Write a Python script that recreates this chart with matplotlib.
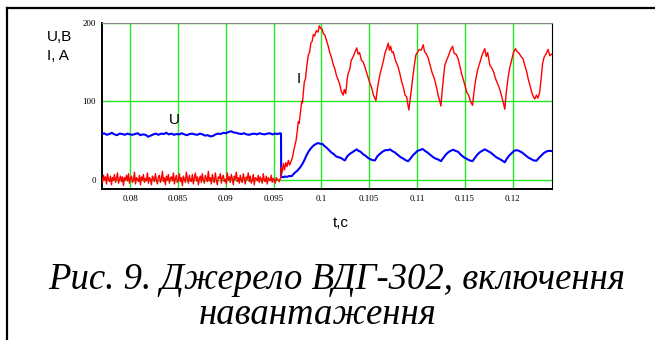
import matplotlib

matplotlib.use("Agg")
import matplotlib.pyplot as plt
import numpy as np
from matplotlib.lines import Line2D

# Oscillogram values (t in s, U in V, I in A)
T_PRE_START, T_PRE_END = 0.0770, 0.0957

# idle part, before the load is switched on (evenly sampled)
current_pre = [2, -3, 6, 0, 4, -5, 8, 1, -2, 5, -6, 3, 0, 7, -3, 2, 9, -4, 1, 5,
               -2, 4, -7, 3, 0, 6, -1, 8, -4, 2, 5, -3, 0, 10, -5, 3, 1, -2, 6, -6,
               4, 0, 7, -3, 2, -1, 9, -4, 3, 1, -6, 5, 2, -2, 8, 0, -5, 4, 6, -3,
               1, 11, -2, 3, -6, 5, 0, 7, -4, 2, 4, -1, 9, -5, 2, 6, -3, 0, 8, -2,
               3, -7, 5, 1, -3, 10, 2, -4, 6, 0, -2, 7, -5, 3, 9, -1, 4, -6, 2, 5,
               -3, 8, 0, -4, 6, 2, -2, 11, -1, 3, -5, 7, 1, -3, 9, 0, -6, 4, 2, 8,
               -4, 3, 6, -2, 1, -5, 9, 0, 4, -3, 7, 2, -6, 5, 1, 10, -2, 3, -4, 6,
               0, -3, 8, 2, -5, 4, 1, 9, -2, 5, -4, 0, 7, -6, 3, 2, -1, 6, -3, 4,
               1, -4, 8, 0, -2, 5, -5, 3, 1, -1, 6, -3, 2, 0, -4, 3, 1, 0, -2, 2]

voltage_pre = [58, 59.5, 57.5, 58.5, 60, 58, 57, 59, 58.5, 57.5, 59, 58, 57.5, 58.5,
               59.5, 57, 58, 57.5, 55, 56.5, 58, 59, 57.5, 59, 58.5, 60, 58, 59,
               57.5, 58.5, 58, 59.5, 58, 57, 58.5, 59, 58, 57.5, 59, 58, 56.5, 57,
               55.5, 56, 58, 59, 58.5, 60, 59.5, 61, 62, 60.5, 60, 59, 58.5, 59.5,
               58, 57.5, 58.5, 59, 58, 59.5, 58.5, 58, 59, 59.5, 58, 59, 58.5, 59.5]

# after switching on the load
current_t = [0.09578, 0.09580, 0.09592, 0.09603, 0.09615, 0.09628, 0.09640, 0.09655,
             0.09668, 0.09690, 0.09700, 0.09712, 0.09725, 0.09735, 0.09748, 0.09759,
             0.09768, 0.09780, 0.09795, 0.09802, 0.09815, 0.09822, 0.09833, 0.09848,
             0.09864, 0.09878, 0.09890, 0.09903, 0.09916, 0.09930, 0.09948, 0.09965,
             0.09979, 0.09992, 0.10008, 0.10022, 0.10038, 0.10052, 0.10070, 0.10088,
             0.10108, 0.10122, 0.10140, 0.10158, 0.10177, 0.10192, 0.10210, 0.10229,
             0.10240, 0.10255, 0.10270, 0.10282, 0.10296, 0.10312, 0.10330, 0.10350,
             0.10370, 0.10385, 0.10400, 0.10420, 0.10438, 0.10455, 0.10470, 0.10490,
             0.10508, 0.10525, 0.10545, 0.10560, 0.10571, 0.10585, 0.10600, 0.10615,
             0.10631, 0.10650, 0.10665, 0.10685, 0.10700, 0.10712, 0.10725, 0.10740,
             0.10752, 0.10775, 0.10800, 0.10820, 0.10840, 0.10858, 0.10875, 0.10892,
             0.10905, 0.10916, 0.10930, 0.10944, 0.10958, 0.10972, 0.10989, 0.11005,
             0.11025, 0.11045, 0.11066, 0.11080, 0.11095, 0.11118, 0.11140, 0.11160,
             0.11185, 0.11206, 0.11225, 0.11240, 0.11251, 0.11265, 0.11280, 0.11292,
             0.11310, 0.11330, 0.11350, 0.11373, 0.11390, 0.11410, 0.11431, 0.11450,
             0.11470, 0.11501, 0.11520, 0.11540, 0.11560, 0.11582, 0.11595, 0.11610,
             0.11625, 0.11640, 0.11660, 0.11685, 0.11710, 0.11725, 0.11740, 0.11763,
             0.11785, 0.11800, 0.11825, 0.11849, 0.11870, 0.11890, 0.11905, 0.11919,
             0.11932, 0.11945, 0.11960, 0.11972, 0.11990, 0.12010, 0.12031, 0.12050,
             0.12070, 0.12090, 0.12111, 0.12130, 0.12150, 0.12165, 0.12181, 0.12200,
             0.12218, 0.12233, 0.12250, 0.12265, 0.12285, 0.12300, 0.12315, 0.12330,
             0.12350, 0.12372, 0.12390, 0.12408]
current_v = [3, 16, 10, 21, 13, 22, 17, 25,
             19, 26, 30, 38, 45, 50, 62, 74,
             72, 85, 100, 98, 115, 125, 128, 145,
             159, 163, 174, 176, 185, 183, 190, 188,
             196, 193, 192, 186, 184, 178, 171, 162,
             155, 148, 142, 133, 127, 122, 112, 108,
             115, 110, 128, 136, 140, 152, 156, 162,
             168, 160, 162, 152, 150, 144, 138, 130,
             123, 118, 108, 104, 101, 115, 126, 135,
             143, 152, 161, 168, 174, 165, 170, 162,
             163, 152, 145, 136, 125, 118, 108, 106,
             96, 89, 104, 117, 132, 145, 159, 162,
             166, 165, 172, 163, 161, 155, 145, 136,
             128, 117, 106, 100, 94, 115, 132, 146,
             152, 158, 165, 170, 161, 160, 154, 144,
             134, 121, 112, 108, 100, 95, 110, 124,
             134, 142, 150, 160, 167, 157, 162, 146,
             142, 138, 128, 121, 114, 105, 98, 90,
             108, 122, 135, 143, 152, 162, 167, 163,
             161, 157, 154, 145, 137, 128, 121, 112,
             106, 103, 108, 104, 112, 130, 148, 156,
             160, 166, 158, 160]

voltage_t = [0.09578, 0.09580, 0.09600, 0.09620, 0.09640, 0.09660, 0.09690, 0.09720,
             0.09750, 0.09778, 0.09800, 0.09825, 0.09847, 0.09870, 0.09895, 0.09920,
             0.09945, 0.09968, 0.09990, 0.10010, 0.10035, 0.10056, 0.10080, 0.10105,
             0.10130, 0.10155, 0.10180, 0.10205, 0.10230, 0.10247, 0.10270, 0.10295,
             0.10320, 0.10345, 0.10370, 0.10390, 0.10410, 0.10435, 0.10460, 0.10490,
             0.10520, 0.10545, 0.10561, 0.10585, 0.10610, 0.10640, 0.10670, 0.10700,
             0.10718, 0.10740, 0.10770, 0.10800, 0.10830, 0.10860, 0.10885, 0.10909,
             0.10930, 0.10955, 0.10980, 0.11005, 0.11030, 0.11059, 0.11085, 0.11110,
             0.11140, 0.11170, 0.11200, 0.11225, 0.11251, 0.11275, 0.11300, 0.11325,
             0.11350, 0.11379, 0.11405, 0.11430, 0.11460, 0.11490, 0.11520, 0.11550,
             0.11582, 0.11605, 0.11630, 0.11655, 0.11680, 0.11710, 0.11740, 0.11770,
             0.11800, 0.11830, 0.11860, 0.11890, 0.11919, 0.11940, 0.11965, 0.11990,
             0.12015, 0.12042, 0.12070, 0.12100, 0.12130, 0.12160, 0.12190, 0.12220,
             0.12251, 0.12275, 0.12300, 0.12325, 0.12350, 0.12372, 0.12408]
voltage_v = [59, 4, 3.5, 4.5, 4, 5, 5, 9,
             12, 16, 20, 26, 32, 37, 41, 44,
             46, 47, 46, 46, 43, 41, 38, 35,
             33, 30, 29, 28, 26, 25, 30, 33,
             35, 37, 39, 37, 36, 33, 31, 28,
             26, 25, 25, 30, 33, 36, 38, 38,
             39, 37, 35, 32, 29, 27, 25, 24,
             27, 31, 34, 37, 38, 39.5, 37, 35,
             32, 29, 27, 26, 24, 28, 32, 35,
             37, 38.5, 37, 36, 32, 29, 27, 25,
             24, 28, 32, 35, 37, 39, 37, 35,
             32, 29, 27, 25, 22.5, 27, 31, 34,
             37, 38, 37, 35, 32, 29, 27, 25,
             24.5, 28, 31, 34, 36, 37, 37]

x_ticks = [0.08, 0.085, 0.09, 0.095, 0.1, 0.105, 0.11, 0.115, 0.12]
x_labels = ["0.08", "0.085", "0.09", "0.095", "0.1", "0.105", "0.11", "0.115", "0.12"]
y_ticks = [0, 100, 200]

t_cur = np.concatenate([np.linspace(T_PRE_START, T_PRE_END, len(current_pre)), current_t])
i_all = np.concatenate([current_pre, current_v])
t_vol = np.concatenate([np.linspace(T_PRE_START, T_PRE_END, len(voltage_pre)), voltage_t])
u_all = np.concatenate([voltage_pre, voltage_v])

GREEN = "#22e622"
fig = plt.figure(figsize=(6.55, 3.4), dpi=100)
ax = fig.add_axes([101.5 / 655, 1 - 189 / 340, 450.2 / 655, 166.3 / 340])

ax.plot(t_vol, u_all, color="#0000ff", lw=1.5, zorder=3)
ax.plot(t_cur, i_all, color="#ff0000", lw=1.0, zorder=4)

ax.set_xlim(0.0770, 0.1241)
ax.set_ylim(-11.4, 200)
ax.set_xticks(x_ticks, x_labels)
ax.set_yticks(y_ticks, [str(v) for v in y_ticks])
ax.tick_params(length=0, pad=4, labelsize=6.5)
for lab in ax.get_xticklabels() + ax.get_yticklabels():
    lab.set_family("Liberation Serif")
ax.grid(True, color=GREEN, lw=1.0)
ax.set_axisbelow(True)
for side in ("left", "bottom"):
    ax.spines[side].set_linewidth(1.4)
ax.spines["right"].set_linewidth(0.8)
ax.spines["top"].set_color("#888888")
ax.spines["top"].set_linewidth(0.8)

sans = "Liberation Sans"
ax.text(0.0846, 68, "U", fontsize=11, family=sans, ha="center", va="bottom")
ax.text(0.0976, 119, "I", fontsize=11, family=sans, ha="center", va="bottom")

fig.text(46.7 / 655, 1 - 37 / 340, "U,B", fontsize=11, family=sans, va="center")
fig.text(46.7 / 655, 1 - 55.5 / 340, "I, A", fontsize=11, family=sans, va="center")
fig.text(341 / 655, 1 - 223 / 340, "t,c", fontsize=11, family=sans, ha="center", va="center")

serif = "Liberation Serif"
fig.text(337 / 655, 1 - 289 / 340, "Рис. 9. Джерело ВДГ-302, включення",
         fontsize=26.5, family=serif, style="italic", ha="center", va="baseline")
fig.text(318 / 655, 1 - 324 / 340, "навантаження",
         fontsize=26.5, family=serif, style="italic", ha="center", va="baseline")

# outer frame of the page box
fig.add_artist(Line2D([7 / 655, 7 / 655], [0, 1 - 8 / 340], color="black", lw=1.6))
fig.add_artist(Line2D([7 / 655, 1], [1 - 8 / 340, 1 - 8 / 340], color="black", lw=1.6))

fig.savefig("out.png", dpi=100)
